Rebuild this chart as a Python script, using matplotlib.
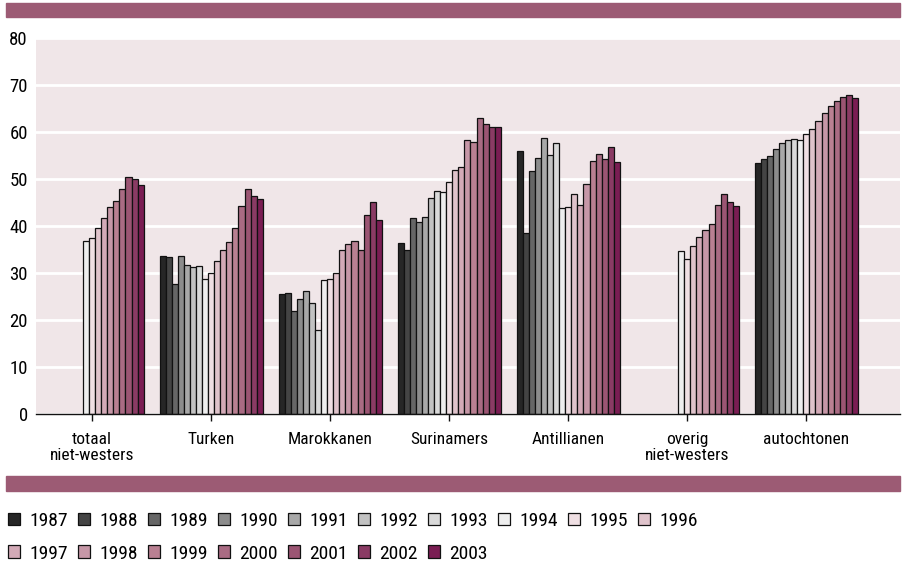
import numpy as np
import matplotlib
matplotlib.use('Agg')
from matplotlib import pyplot as plt
from matplotlib.patches import Rectangle, Patch
from matplotlib import font_manager

# a narrow face if there is one, Liberation Sans otherwise
names = {f.name for f in font_manager.fontManager.ttflist}
narrow = [n for n in ['Liberation Sans Narrow', 'Roboto Condensed', 'Arial Narrow'] if n in names]
plt.rcParams['font.family'] = narrow + ['Liberation Sans', 'DejaVu Sans']

groups = ['totaal\nniet-westers', 'Turken', 'Marokkanen', 'Surinamers',
          'Antillianen', 'overig\nniet-westers', 'autochtonen']
years = list(range(1987, 2004))

# one row per group, 1987..2003 (nan = no data)
nan = np.nan
totaal = [nan, nan, nan, nan, nan, nan, nan, 36.8, 37.5, 39.5, 41.6, 44.1, 45.4, 47.8, 50.5, 50.0, 48.7]
turken = [33.6, 33.3, 27.7, 33.5, 31.7, 31.2, 31.4, 28.7, 30.0, 32.6, 34.8, 36.5, 39.6, 44.2, 47.8, 46.4, 45.7]
marokkanen = [25.5, 25.7, 22.0, 24.4, 26.2, 23.6, 17.8, 28.4, 28.8, 29.9, 34.8, 36.2, 36.8, 34.8, 42.3, 45.0, 41.3]
surinamers = [36.3, 34.9, 41.6, 40.9, 41.9, 45.9, 47.5, 47.2, 49.4, 51.9, 52.5, 58.2, 57.9, 62.9, 61.8, 61.0, 61.0]
antillianen = [56.0, 38.4, 51.6, 54.5, 58.8, 55.0, 57.7, 43.8, 44.0, 46.9, 44.5, 48.9, 53.8, 55.3, 54.2, 56.9, 53.6]
overig = [nan, nan, nan, nan, nan, nan, nan, 34.6, 33.0, 35.8, 37.7, 39.1, 40.5, 44.5, 46.8, 45.1, 44.2]
autochtonen = [53.3, 54.2, 54.8, 56.3, 57.6, 58.3, 58.4, 58.2, 59.6, 60.6, 62.3, 64.1, 65.6, 66.6, 67.4, 67.9, 67.3]

values = np.array([totaal, turken, marokkanen, surinamers, antillianen, overig, autochtonen])

year_colors = ['#262626', '#444444', '#666666', '#8c8c8c', '#a8a8a8', '#c2c2c2', '#d9d9d9',
               '#eeeeee', '#efdfe3', '#dfc3cb', '#d3aab7', '#c697a7', '#b98092', '#a96b83',
               '#9b5573', '#8a3b64', '#7a1d53']

bar_color = '#9c5b74'
bg_color = '#f0e6e8'

fig = plt.figure(figsize=(9.04, 5.67), dpi=100)
ax = fig.add_axes([0.040, 0.270, 0.956, 0.663])
ax.set_facecolor(bg_color)

x = np.arange(len(groups))
w = 0.051
for k, yr in enumerate(years):
    offs = (k - (len(years) - 1) / 2) * w
    ax.bar(x + offs, values[:, k], width=w, color=year_colors[k],
           edgecolor='#111111', linewidth=0.9, label=str(yr), zorder=3)

ax.set_ylim(0, 80)
ax.set_xlim(-0.47, 6.79)
ax.set_yticks(range(0, 81, 10))
ax.yaxis.grid(True, color='white', linewidth=2, zorder=1)
ax.set_axisbelow(True)
ax.set_xticks(x)
ax.set_xticklabels(groups, fontsize=12.5, linespacing=1.05)
ax.tick_params(axis='y', length=0, labelsize=13.5, pad=6)
ax.tick_params(axis='x', length=5, width=1, color='#111111', pad=8)
for s in ['top', 'right', 'left']:
    ax.spines[s].set_visible(False)
ax.spines['bottom'].set_color('#111111')
ax.spines['bottom'].set_linewidth(1)
ax.spines['bottom'].set_zorder(4)

# decorative bands
fig.add_artist(Rectangle((0.007, 0.970), 0.989, 0.025, transform=fig.transFigure,
                         color=bar_color, zorder=0))
fig.add_artist(Rectangle((0.007, 0.134), 0.989, 0.027, transform=fig.transFigure,
                         color=bar_color, zorder=0))

# legend: row-major in 10 columns
handles = [Patch(facecolor=c, edgecolor='#111111', linewidth=0.9) for c in year_colors]
labels = [str(y) for y in years]
order = []
for j in range(10):
    order.append(j)
    if j + 10 < len(years):
        order.append(j + 10)
leg = fig.legend([handles[i] for i in order], [labels[i] for i in order],
                 loc='upper left', bbox_to_anchor=(0.009, 0.097), ncol=10,
                 frameon=False, fontsize=14, handlelength=0.62, handleheight=0.62,
                 handletextpad=0.45, columnspacing=0.55, labelspacing=0.75,
                 borderaxespad=0, borderpad=0)

fig.savefig('out.png', dpi=100)
